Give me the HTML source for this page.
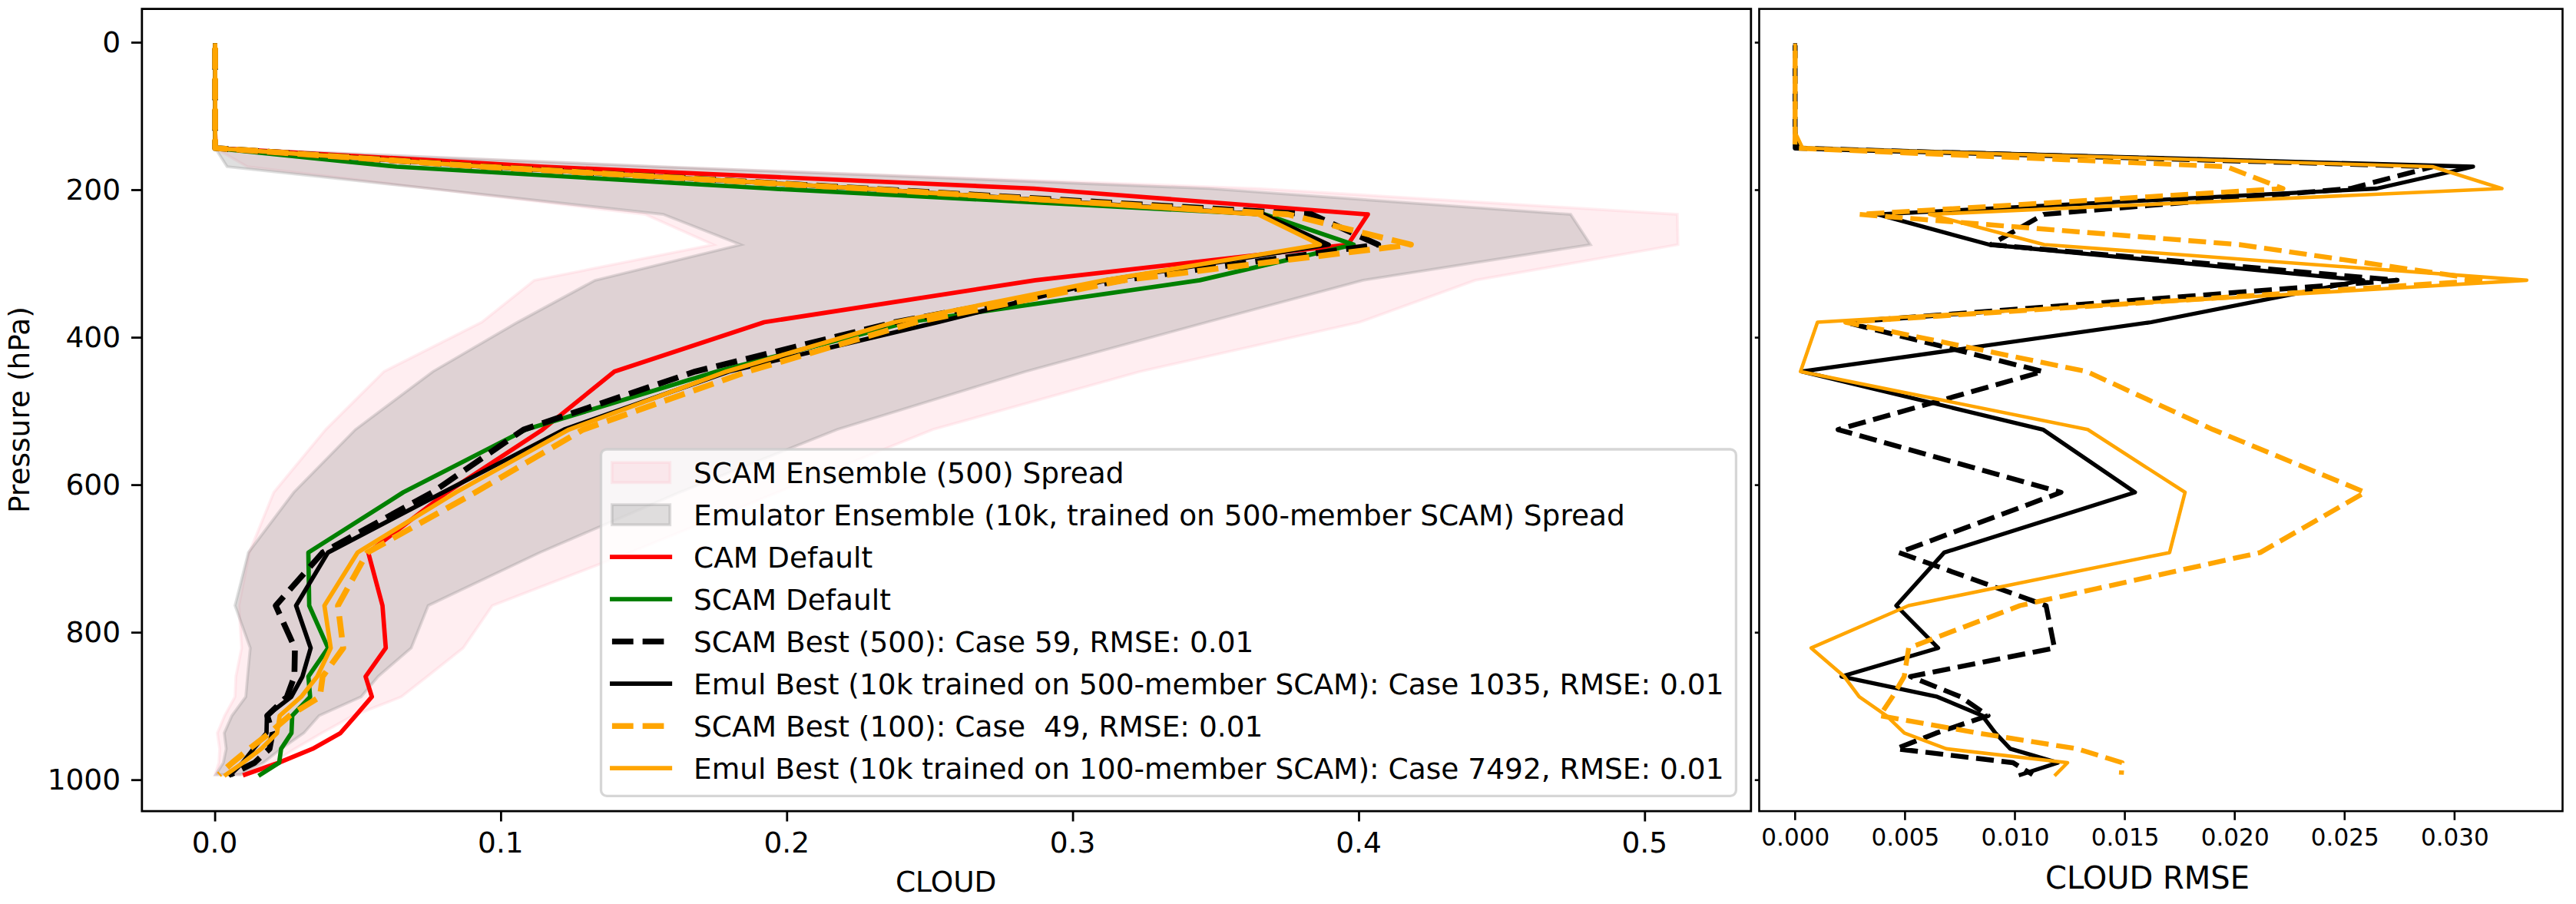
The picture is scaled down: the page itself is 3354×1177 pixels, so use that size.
<!DOCTYPE html>
<html lang="en"><head><meta charset="utf-8"><title>CLOUD profile</title>
<style>
html,body{margin:0;padding:0;background:#fff;}
body{width:3354px;height:1177px;overflow:hidden;}
svg{display:block;font-family:'DejaVu Sans','Liberation Sans',sans-serif;}
text{fill:#000;}
.t9{font-size:37.5px;}
.t7{font-size:31.05px;}
.t10{font-size:40px;}
.ln{fill:none;stroke-linejoin:round;}
.sol{stroke-linecap:square;}
.sp{fill:none;stroke:#000;stroke-width:2.8;stroke-linejoin:miter;stroke-linecap:square;}
.tk{stroke:#000;stroke-width:2.8;}
.tkr{stroke:#000;stroke-width:2.6;}
.spr{fill:none;stroke:#000;stroke-width:2.6;stroke-linejoin:miter;}
</style></head><body>
<svg width="3354" height="1177" viewBox="0 0 3354 1177">
<rect width="3354" height="1177" fill="#fff"/>

<g id="left-plot">
<polygon points="280.1,59.0 280.1,62.8 280.1,69.3 280.1,79.1 280.1,92.2 280.1,107.9 280.1,124.6 280.1,139.8 280.1,154.7 280.1,172.2 280.1,192.8 322.0,217.0 560.0,245.5 840.0,279.1 928.6,318.5 695.7,364.9 627.3,419.5 500.0,483.7 424.0,559.3 356.5,641.0 324.6,719.4 311.0,788.5 314.6,843.7 307.1,880.8 306.0,907.2 292.5,931.8 283.0,954.4 286.0,974.9 285.0,993.0 280.0,1008.6 317.5,1008.6 355.0,993.0 384.0,974.9 419.0,954.4 460.0,931.8 522.6,907.2 556.4,880.8 603.0,843.7 641.0,788.5 820.0,719.4 1012.5,641.0 1214.5,559.3 1484.5,483.7 1770.2,419.5 1920.8,364.9 2184.8,318.5 2183.9,279.1 1639.0,245.5 854.0,217.0 280.1,192.8 280.1,172.2 280.1,154.7 280.1,139.8 280.1,124.6 280.1,107.9 280.1,92.2 280.1,79.1 280.1,69.3 280.1,62.8 280.1,59.0" fill="#ffc0cb" fill-opacity="0.27" stroke="#ffc0cb" stroke-opacity="0.27" stroke-width="3.75" stroke-linejoin="miter"/>
<polygon points="280.1,59.0 280.1,62.8 280.1,69.3 280.1,79.1 280.1,92.2 280.1,107.9 280.1,124.6 280.1,139.8 280.1,154.7 280.1,172.2 280.1,192.8 295.7,217.0 560.0,245.5 863.4,279.1 964.3,318.5 774.8,364.9 674.0,419.5 563.7,483.7 462.7,559.3 382.5,641.0 323.4,719.4 306.0,788.5 325.8,843.7 322.3,880.8 320.0,907.2 302.0,931.8 292.0,954.4 294.5,974.9 290.8,993.0 281.0,1008.6 313.0,1008.6 343.0,993.0 366.0,974.9 395.6,954.4 415.5,931.8 470.2,907.2 492.3,880.8 535.4,843.7 557.5,788.5 703.0,719.4 885.0,641.0 1090.0,559.3 1335.4,483.7 1571.4,419.5 1774.8,364.9 2070.8,318.5 2045.0,279.1 1575.0,245.5 860.0,217.0 280.1,192.8 280.1,172.2 280.1,154.7 280.1,139.8 280.1,124.6 280.1,107.9 280.1,92.2 280.1,79.1 280.1,69.3 280.1,62.8 280.1,59.0" fill="#808080" fill-opacity="0.25" stroke="#808080" stroke-opacity="0.25" stroke-width="3.75" stroke-linejoin="miter"/>
<polyline class="ln sol" points="280.1,59.0 280.1,62.8 280.1,69.3 280.1,79.1 280.1,92.2 280.1,107.9 280.1,124.6 280.1,139.8 280.1,154.7 280.1,172.2 281.0,192.8 708.0,217.0 1346.0,245.5 1781.0,279.1 1755.0,318.5 1348.0,364.9 995.0,419.5 800.0,483.7 706.5,559.3 582.0,641.0 479.5,719.4 498.0,788.5 502.3,843.7 476.0,880.8 484.2,907.2 463.0,931.8 443.3,954.4 407.0,974.9 363.0,993.0 319.0,1008.6" stroke="#ff0000" stroke-width="5.7"/>
<polyline class="ln sol" points="280.1,59.0 280.1,62.8 280.1,69.3 280.1,79.1 280.1,92.2 280.1,107.9 280.1,124.6 280.1,139.8 280.1,154.7 280.1,172.2 280.1,192.8 516.5,217.0 1003.0,245.5 1647.0,279.1 1762.5,318.5 1562.0,364.9 1182.0,419.5 933.0,483.7 684.8,559.3 525.0,641.0 401.5,719.4 402.6,788.5 427.1,843.7 401.5,880.8 403.8,907.2 380.5,931.8 379.5,954.4 366.0,974.9 363.5,993.0 339.0,1008.6" stroke="#008000" stroke-width="5.7"/>
<polyline class="ln" points="280.1,59.0 280.1,62.8 280.1,69.3 280.1,79.1 280.1,92.2 280.1,107.9 280.1,124.6 280.1,139.8 280.1,154.7 280.1,172.2 280.1,192.8 632.0,217.0 1130.0,245.5 1708.0,279.1 1794.3,318.5 1460.0,364.9 1165.0,419.5 905.3,483.7 681.7,559.3 563.0,641.0 420.0,719.4 359.0,788.5 384.0,843.7 383.3,880.8 373.5,907.2 348.0,931.8 354.8,954.4 351.0,974.9 331.5,993.0 300.0,1008.6" stroke="#000000" stroke-width="7.6" stroke-dasharray="27.75 12" stroke-dashoffset="-4"/>
<polyline class="ln sol" points="280.1,59.0 280.1,62.8 280.1,69.3 280.1,79.1 280.1,92.2 280.1,107.9 280.1,124.6 280.1,139.8 280.1,154.7 280.1,172.2 280.1,192.8 630.0,217.0 1124.0,245.5 1645.0,279.1 1730.0,318.5 1440.0,364.9 1221.0,419.5 948.8,483.7 734.5,559.3 577.0,641.0 427.0,719.4 385.5,788.5 404.5,843.7 393.8,880.8 379.3,907.2 347.5,931.8 347.0,954.4 330.0,974.9 316.0,993.0 300.0,1008.6" stroke="#000000" stroke-width="5.7"/>
<polyline class="ln" points="280.1,59.0 280.1,62.8 280.1,69.3 280.1,79.1 280.1,92.2 280.1,107.9 280.1,124.6 280.1,139.8 280.1,154.7 280.1,172.2 280.1,192.8 630.0,217.0 1124.0,245.5 1677.0,279.1 1837.0,318.5 1463.0,364.9 1192.0,419.5 973.6,483.7 759.3,559.3 619.0,641.0 478.3,719.4 440.0,788.5 446.9,843.7 420.1,880.8 416.5,907.2 377.0,931.8 351.0,954.4 324.5,974.9 302.4,993.0 285.0,1008.6" stroke="#ffa500" stroke-width="7.6" stroke-dasharray="27.75 12" stroke-dashoffset="-3"/>
<polyline class="ln sol" points="280.1,59.0 280.1,62.8 280.1,69.3 280.1,79.1 280.1,92.2 280.1,107.9 280.1,124.6 280.1,139.8 280.1,154.7 280.1,172.2 280.1,192.8 630.0,217.0 1124.0,245.5 1638.2,279.1 1718.5,318.5 1438.0,364.9 1164.5,419.5 945.7,483.7 740.7,559.3 593.6,641.0 465.5,719.4 422.4,788.5 430.6,843.7 413.1,880.8 392.2,907.2 364.2,931.8 360.7,954.4 340.0,974.9 316.4,993.0 294.3,1008.6" stroke="#ffa500" stroke-width="5.7"/>
<line class="tk" x1="280.1" x2="280.1" y1="1056.1" y2="1069.5"/>
<text class="t9" x="279.6" y="1109.5" text-anchor="middle">0.0</text>
<line class="tk" x1="652.4" x2="652.4" y1="1056.1" y2="1069.5"/>
<text class="t9" x="651.9" y="1109.5" text-anchor="middle">0.1</text>
<line class="tk" x1="1024.8" x2="1024.8" y1="1056.1" y2="1069.5"/>
<text class="t9" x="1024.3" y="1109.5" text-anchor="middle">0.2</text>
<line class="tk" x1="1397.1" x2="1397.1" y1="1056.1" y2="1069.5"/>
<text class="t9" x="1396.6" y="1109.5" text-anchor="middle">0.3</text>
<line class="tk" x1="1769.5" x2="1769.5" y1="1056.1" y2="1069.5"/>
<text class="t9" x="1769.0" y="1109.5" text-anchor="middle">0.4</text>
<line class="tk" x1="2141.8" x2="2141.8" y1="1056.1" y2="1069.5"/>
<text class="t9" x="2141.3" y="1109.5" text-anchor="middle">0.5</text>
<line class="tk" x1="170.9" x2="184.8" y1="55.5" y2="55.5"/>
<text class="t9" x="157.1" y="68.2" text-anchor="end">0</text>
<line class="tk" x1="170.9" x2="184.8" y1="247.5" y2="247.5"/>
<text class="t9" x="157.1" y="260.2" text-anchor="end">200</text>
<line class="tk" x1="170.9" x2="184.8" y1="439.6" y2="439.6"/>
<text class="t9" x="157.1" y="452.3" text-anchor="end">400</text>
<line class="tk" x1="170.9" x2="184.8" y1="631.6" y2="631.6"/>
<text class="t9" x="157.1" y="644.3" text-anchor="end">600</text>
<line class="tk" x1="170.9" x2="184.8" y1="823.7" y2="823.7"/>
<text class="t9" x="157.1" y="836.4" text-anchor="end">800</text>
<line class="tk" x1="170.9" x2="184.8" y1="1015.7" y2="1015.7"/>
<text class="t9" x="157.1" y="1028.4" text-anchor="end">1000</text>
<rect class="sp" x="184.8" y="11.6" width="2095.0" height="1044.5"/>
<text class="t9" x="1231.7" y="1161.3" text-anchor="middle">CLOUD</text>
<text class="t9" transform="translate(38.3,533.6) rotate(-90)" text-anchor="middle">Pressure (hPa)</text>
<rect x="782.5" y="585.0" width="1477.9" height="451.3" rx="7.5" ry="7.5" fill="#fff" fill-opacity="0.8" stroke="#cccccc" stroke-opacity="0.8" stroke-width="3.3"/>
<rect x="796.9" y="602.1" width="75.4" height="26.2" fill="#ffc0cb" fill-opacity="0.27" stroke="#ffc0cb" stroke-opacity="0.27" stroke-width="3.75"/>
<text class="t9" x="903.0" y="629.1" xml:space="preserve">SCAM Ensemble (500) Spread</text>
<rect x="796.9" y="657.1" width="75.4" height="26.2" fill="#808080" fill-opacity="0.25" stroke="#808080" stroke-opacity="0.25" stroke-width="3.75"/>
<text class="t9" x="903.0" y="684.1" xml:space="preserve">Emulator Ensemble (10k, trained on 500-member SCAM) Spread</text>
<line x1="796.9" x2="872.3" y1="725.2" y2="725.2" stroke="#ff0000" stroke-width="5.7" stroke-linecap="square"/>
<text class="t9" x="903.0" y="739.1" xml:space="preserve">CAM Default</text>
<line x1="796.9" x2="872.3" y1="780.2" y2="780.2" stroke="#008000" stroke-width="5.7" stroke-linecap="square"/>
<text class="t9" x="903.0" y="794.1" xml:space="preserve">SCAM Default</text>
<line x1="796.9" x2="872.3" y1="835.2" y2="835.2" stroke="#000" stroke-width="7.6" stroke-dasharray="27.75 12"/>
<text class="t9" x="903.0" y="849.1" xml:space="preserve">SCAM Best (500): Case 59, RMSE: 0.01</text>
<line x1="796.9" x2="872.3" y1="890.2" y2="890.2" stroke="#000" stroke-width="5.7" stroke-linecap="square"/>
<text class="t9" x="903.0" y="904.1" xml:space="preserve">Emul Best (10k trained on 500-member SCAM): Case 1035, RMSE: 0.01</text>
<line x1="796.9" x2="872.3" y1="945.2" y2="945.2" stroke="#ffa500" stroke-width="7.6" stroke-dasharray="27.75 12"/>
<text class="t9" x="903.0" y="959.1" xml:space="preserve">SCAM Best (100): Case  49, RMSE: 0.01</text>
<line x1="796.9" x2="872.3" y1="1000.2" y2="1000.2" stroke="#ffa500" stroke-width="5.7" stroke-linecap="square"/>
<text class="t9" x="903.0" y="1014.1" xml:space="preserve">Emul Best (10k trained on 100-member SCAM): Case 7492, RMSE: 0.01</text>
</g>
<g id="right-plot">
<polyline class="ln" points="2337.3,59.0 2337.3,62.8 2337.3,69.3 2337.3,79.1 2337.3,92.2 2337.3,107.9 2337.3,124.6 2337.3,139.8 2337.3,154.7 2337.3,172.2 2337.4,192.8 3168.0,217.0 3060.0,245.5 2661.0,279.1 2592.0,318.5 3121.0,364.9 2402.5,419.5 2659.9,483.7 2393.2,559.3 2683.5,641.0 2472.4,719.4 2664.0,788.5 2675.0,843.7 2487.4,880.8 2552.6,907.2 2588.5,931.8 2521.0,954.4 2469.0,974.9 2621.0,993.0 2646.5,1008.6" stroke="#000" stroke-width="6.4" stroke-dasharray="23.173 10.021" stroke-dashoffset="6.36"/>
<polyline class="ln sol" points="2337.3,59.0 2337.3,62.8 2337.3,69.3 2337.3,79.1 2337.3,92.2 2337.3,107.9 2337.3,124.6 2337.3,139.8 2337.3,154.7 2337.3,172.2 2342.0,192.8 3220.0,217.0 3094.5,245.5 2445.0,279.1 2590.0,318.5 3077.0,364.9 2800.8,419.5 2346.0,483.7 2660.0,559.3 2779.8,641.0 2531.4,719.4 2469.0,788.5 2523.5,843.7 2397.7,880.8 2522.3,907.2 2581.0,931.8 2598.0,954.4 2617.4,974.9 2679.5,993.0 2631.0,1008.6" stroke="#000" stroke-width="5.3"/>
<polyline class="ln" points="2337.3,59.0 2337.3,62.8 2337.3,69.3 2337.3,79.1 2337.3,92.2 2337.3,107.9 2337.3,124.6 2337.3,139.8 2337.3,154.7 2337.3,172.2 2337.0,192.8 2898.8,217.0 2972.4,245.5 2421.0,279.1 2915.6,318.5 3237.0,364.9 2403.0,419.5 2716.9,483.7 2881.4,559.3 3079.5,641.0 2942.9,719.4 2630.0,788.5 2485.1,843.7 2479.3,880.8 2464.0,907.2 2447.7,931.8 2575.0,954.4 2704.7,974.9 2763.0,993.0 2762.0,1008.6" stroke="#ffa500" stroke-width="6.4" stroke-dasharray="23.054 9.969" stroke-dashoffset="-6.96"/>
<polyline class="ln sol" points="2337.3,59.0 2337.3,62.8 2337.3,69.3 2337.3,79.1 2337.3,92.2 2337.3,107.9 2337.3,124.6 2337.3,139.8 2337.3,154.7 2337.3,172.2 2347.0,192.8 3167.0,217.0 3257.5,245.5 2512.3,279.1 2661.6,318.5 3289.8,364.9 2366.4,419.5 2344.3,483.7 2718.3,559.3 2845.0,641.0 2824.8,719.4 2485.0,788.5 2358.2,843.7 2401.2,880.8 2420.7,907.2 2456.2,931.8 2479.5,954.4 2534.0,974.9 2692.0,993.0 2676.6,1008.6" stroke="#ffa500" stroke-width="4.6"/>
<line class="tkr" x1="2337.3" x2="2337.3" y1="1056.1" y2="1067.8"/>
<text class="t7" x="2337.8" y="1101.2" text-anchor="middle">0.000</text>
<line class="tkr" x1="2480.4" x2="2480.4" y1="1056.1" y2="1067.8"/>
<text class="t7" x="2480.9" y="1101.2" text-anchor="middle">0.005</text>
<line class="tkr" x1="2623.5" x2="2623.5" y1="1056.1" y2="1067.8"/>
<text class="t7" x="2624.0" y="1101.2" text-anchor="middle">0.010</text>
<line class="tkr" x1="2766.6" x2="2766.6" y1="1056.1" y2="1067.8"/>
<text class="t7" x="2767.1" y="1101.2" text-anchor="middle">0.015</text>
<line class="tkr" x1="2909.7" x2="2909.7" y1="1056.1" y2="1067.8"/>
<text class="t7" x="2910.2" y="1101.2" text-anchor="middle">0.020</text>
<line class="tkr" x1="3052.8" x2="3052.8" y1="1056.1" y2="1067.8"/>
<text class="t7" x="3053.3" y="1101.2" text-anchor="middle">0.025</text>
<line class="tkr" x1="3195.9" x2="3195.9" y1="1056.1" y2="1067.8"/>
<text class="t7" x="3196.4" y="1101.2" text-anchor="middle">0.030</text>
<line class="tkr" x1="2284.8" x2="2290.5" y1="55.5" y2="55.5"/>
<line class="tkr" x1="2284.8" x2="2290.5" y1="247.5" y2="247.5"/>
<line class="tkr" x1="2284.8" x2="2290.5" y1="439.6" y2="439.6"/>
<line class="tkr" x1="2284.8" x2="2290.5" y1="631.6" y2="631.6"/>
<line class="tkr" x1="2284.8" x2="2290.5" y1="823.7" y2="823.7"/>
<line class="tkr" x1="2284.8" x2="2290.5" y1="1015.7" y2="1015.7"/>
<rect class="spr" x="2290.5" y="11.6" width="1046.0" height="1044.5"/>
<text class="t10" x="2796" y="1156.5" text-anchor="middle">CLOUD RMSE</text>
</g>
</svg></body></html>
